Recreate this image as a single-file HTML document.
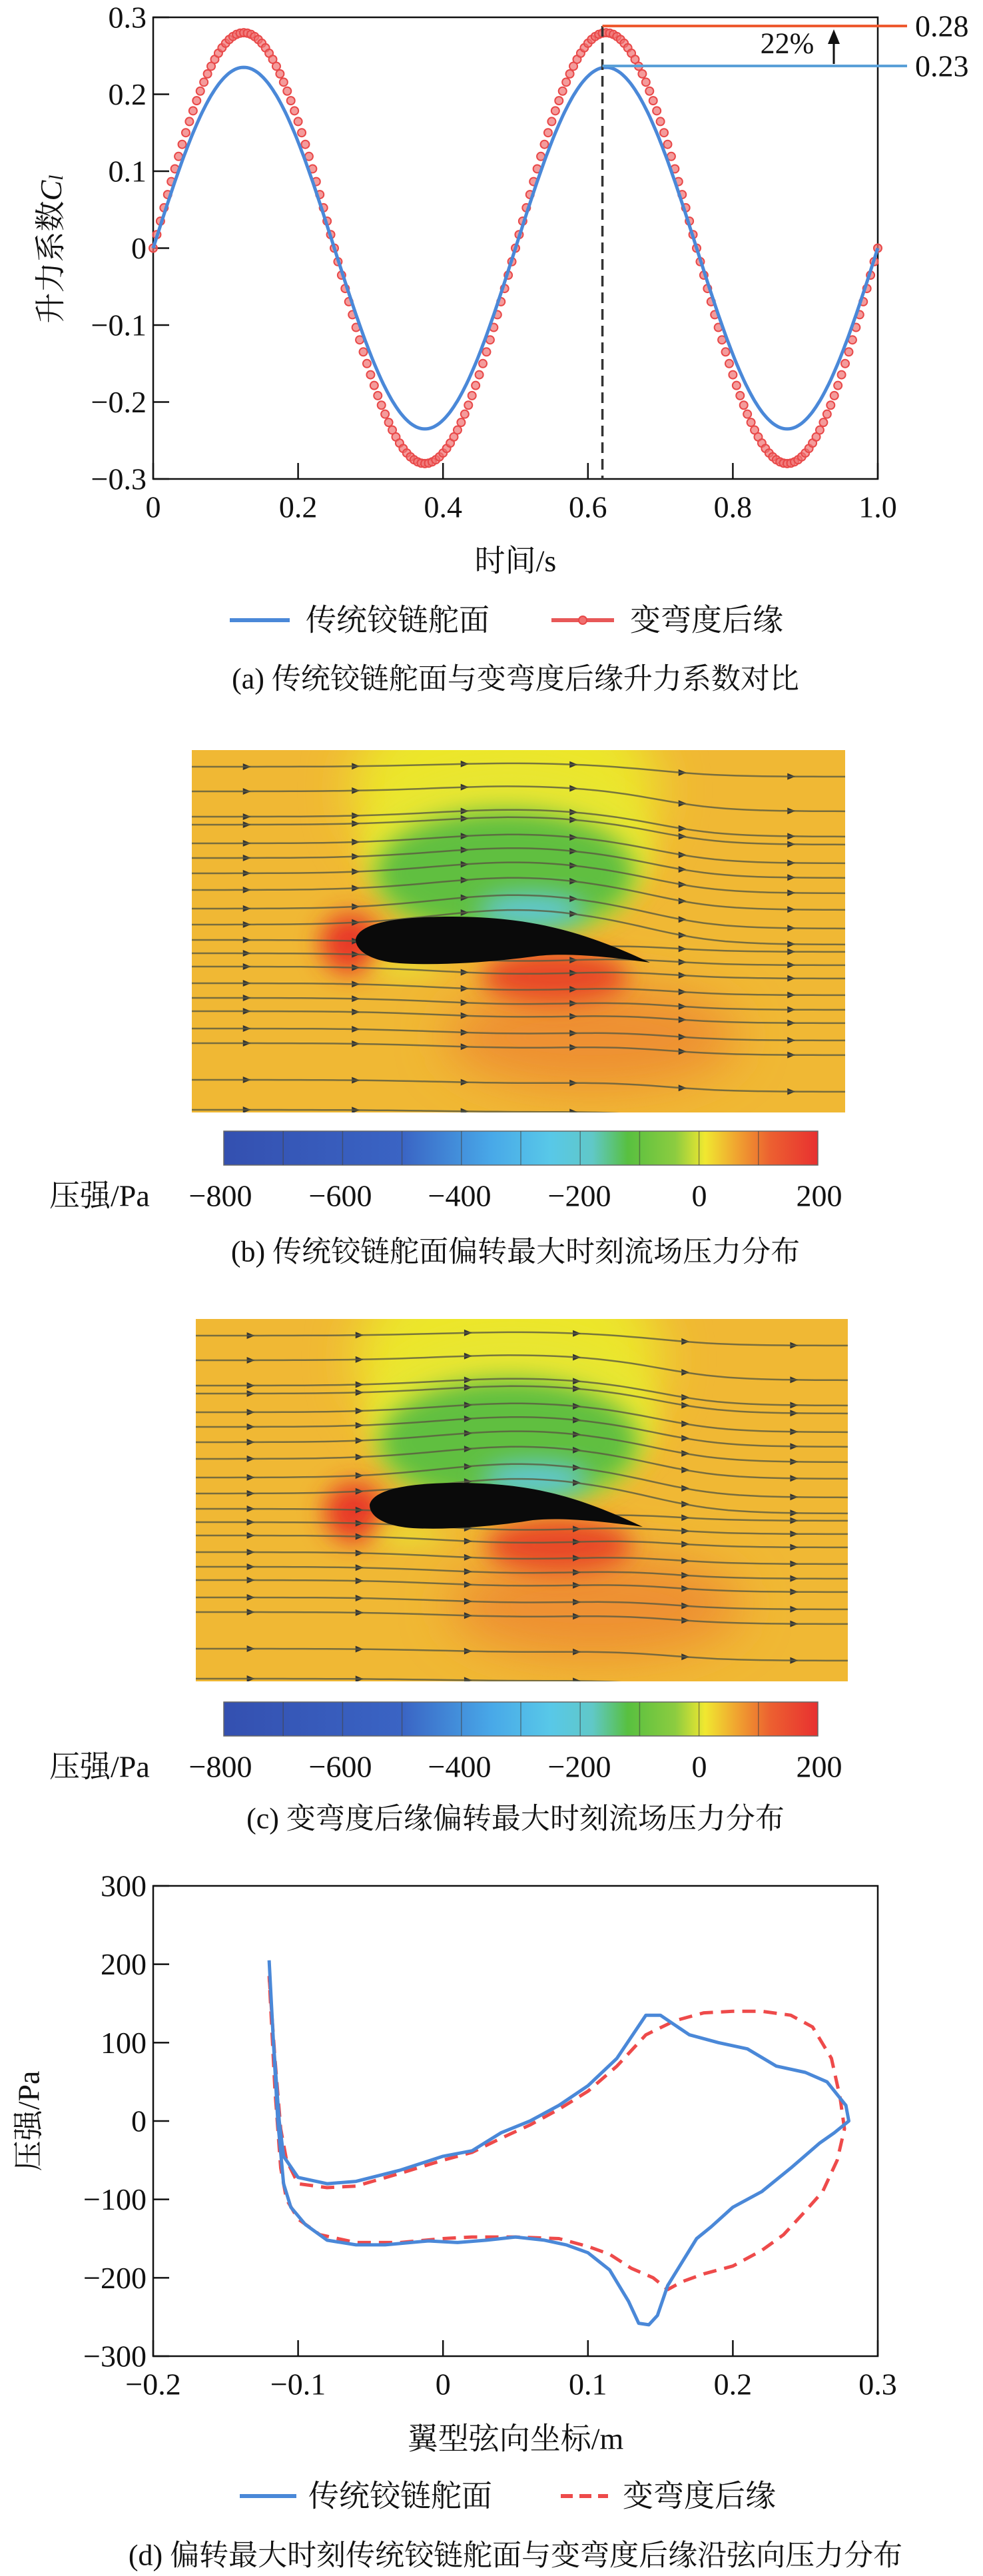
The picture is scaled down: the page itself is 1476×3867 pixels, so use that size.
<!DOCTYPE html>
<html><head><meta charset="utf-8">
<style>
html,body{margin:0;padding:0;background:#fff}
svg text{font-family:"Liberation Serif","Noto Serif CJK SC","Noto Sans CJK SC",serif;fill:#111}
</style></head>
<body>
<svg id="s" xmlns="http://www.w3.org/2000/svg" width="1476" height="3862" viewBox="0 0 1476 3862">
<defs>
<filter id="bl" x="-50%" y="-50%" width="200%" height="200%"><feGaussianBlur stdDeviation="35"/></filter>
<filter id="bl2" x="-50%" y="-50%" width="200%" height="200%"><feGaussianBlur stdDeviation="18"/></filter>
<linearGradient id="cb" x1="0" x2="1" y1="0" y2="0">
<stop offset="0" stop-color="#3450b0"/><stop offset="0.3" stop-color="#3a64c4"/>
<stop offset="0.45" stop-color="#48a8e8"/><stop offset="0.55" stop-color="#58c8e8"/>
<stop offset="0.62" stop-color="#60c8c8"/><stop offset="0.68" stop-color="#58c040"/>
<stop offset="0.76" stop-color="#8ccc40"/><stop offset="0.81" stop-color="#f0e830"/>
<stop offset="0.86" stop-color="#f0a830"/><stop offset="0.92" stop-color="#ec6030"/>
<stop offset="1" stop-color="#e83030"/>
</linearGradient>
<clipPath id="cpb"><rect x="288" y="1126" width="981" height="544"/></clipPath>
<clipPath id="cpc"><rect x="294" y="1980" width="979" height="544"/></clipPath>
</defs>
<g id="g"></g>
</svg>
<script>
var NS="http://www.w3.org/2000/svg",G=document.getElementById("g");
function el(t,a,p,txt){var e=document.createElementNS(NS,t);for(var k in a)e.setAttribute(k,a[k]);if(txt!==undefined)e.textContent=txt;(p||G).appendChild(e);return e;}
function T(x,y,s,a,fs,extra){var o={x:x,y:y,"font-size":fs||46,"text-anchor":a||"middle","dominant-baseline":"central"};for(var k in extra)o[k]=extra[k];return el("text",o,null,s);}
// ---------- Chart (a) ----------
var L=230,R=1318,TP=26,BT=719;
function ay(v){return 372.5-v*1155;}
function ax(t){return L+t*(R-L);}
el("rect",{x:L,y:TP,width:R-L,height:BT-TP,fill:"none",stroke:"#111","stroke-width":2.5});
[0.3,0.2,0.1,0,-0.1,-0.2,-0.3].forEach(function(v){var y=ay(v);el("line",{x1:L,x2:L+24,y1:y,y2:y,stroke:"#111","stroke-width":2.5});
 T(L-10,y,(v<0?"\u2212":"")+(v==0?"0":Math.abs(v).toFixed(1)),"end");});
[0,0.2,0.4,0.6,0.8,1.0].forEach(function(t){var x=ax(t);el("line",{x1:x,x2:x,y1:BT,y2:BT-24,stroke:"#111","stroke-width":2.5});
 T(x,761,t==0?"0":t.toFixed(1));});
T(774,842,"时间/s");
var tt=el("text",{x:0,y:0,"font-size":46,"text-anchor":"middle","dominant-baseline":"central",transform:"translate(76,374) rotate(-90)"},null,"升力系数");
var ts=el("tspan",{"font-style":"italic"},tt,"C");el("tspan",{"font-style":"italic","font-size":30,dy:8},tt,"l");
var d="";for(var i=0;i<=400;i++){var t=i/400;d+=(i?"L":"M")+ax(t).toFixed(1)+","+ay(0.235*Math.sin(2*Math.PI*t/0.5)).toFixed(1);}
for(var i=0;i<=200;i++){var t=i/200;var x=ax(t),y=ay(0.28*Math.sin(2*Math.PI*t/0.5));el("circle",{cx:x,cy:y,r:6,fill:"#f07070",stroke:"#e84848","stroke-width":2,"fill-opacity":0.7});}
el("path",{d:d,fill:"none",stroke:"#4a88d8","stroke-width":5});
var xd=ax(0.62);
el("line",{x1:xd,x2:xd,y1:39,y2:BT,stroke:"#333","stroke-width":3.5,"stroke-dasharray":"16,9"});
el("line",{x1:xd,x2:1362,y1:39,y2:39,stroke:"#ee5a30","stroke-width":4});
el("line",{x1:xd,x2:1362,y1:99,y2:99,stroke:"#5aa0d8","stroke-width":4});
T(1374,39,"0.28","start");T(1374,99,"0.23","start");
T(1182,65,"22%","middle",44);
el("line",{x1:1252,x2:1252,y1:96,y2:58,stroke:"#111","stroke-width":3});
el("path",{d:"M1252,44 L1243,66 L1261,66Z",fill:"#111"});
el("line",{x1:345,x2:435,y1:931,y2:931,stroke:"#4a88d8","stroke-width":6});
T(459,931,"传统铰链舵面","start");
el("line",{x1:828,x2:922,y1:931,y2:931,stroke:"#e85858","stroke-width":6});
el("circle",{cx:875,cy:931,r:6,fill:"#f07070",stroke:"#e84848","stroke-width":2});
T(946,931,"变弯度后缘","start");
T(774,1019,"(a) 传统铰链舵面与变弯度后缘升力系数对比","middle",44);
// ---------- flow panels ----------
function panel(ox,oy,w,h,cp,af,cbY){
 var g=el("g",{"clip-path":"url(#"+cp+")"});
 el("rect",{x:ox,y:oy,width:w,height:h,fill:"#f0b834"},g);
 el("ellipse",{cx:ox+600,cy:oy+430,rx:220,ry:80,fill:"#ee9030",filter:"url(#bl)"},g);
 el("ellipse",{cx:ox+470,cy:oy+60,rx:230,ry:170,fill:"#ece62a",filter:"url(#bl)"},g);
 el("ellipse",{cx:ox+475,cy:oy+150,rx:215,ry:130,fill:"#e8e630",filter:"url(#bl2)"},g);
 el("ellipse",{cx:ox+470,cy:oy+185,rx:195,ry:95,fill:"#60bf40",filter:"url(#bl2)"},g);
 el("ellipse",{cx:ox+510,cy:oy+240,rx:80,ry:25,fill:"#60c8d8",filter:"url(#bl2)"},g);
 el("ellipse",{cx:ox+238,cy:oy+290,rx:45,ry:45,fill:"#e83828",filter:"url(#bl2)"},g);
 el("ellipse",{cx:ox+545,cy:oy+340,rx:110,ry:40,fill:"#e84a28",filter:"url(#bl2)"},g);
 el("ellipse",{cx:ox+320,cy:oy+325,rx:55,ry:16,fill:"#e8e030",filter:"url(#bl2)"},g);
 var ys=[25,62,100,112,140,162,185,210,238,262,285,305,325,350,372,392,418,440,495,540];
 ys.forEach(function(y0,k){
  var pd="";var yc=oy+285;var dist=Math.abs(oy+y0-yc);var A=Math.max(0,40-dist*0.12);
  var up=(oy+y0<yc);
  for(var i=0;i<=60;i++){var x=ox+i*w/60;var u=(x-(ox+w*0.5))/(w*0.18);
   var bump=up? -A*0.6*Math.exp(-u*u) : A*0.3*Math.exp(-u*u);
   var down=(up?30:18)*(1/(1+Math.exp(-(x-(ox+w*0.72))/50)))*(dist<260?1:0.5);
   var y=oy+y0+bump+down;pd+=(i?"L":"M")+x.toFixed(1)+","+y.toFixed(1);
   if(i%10==5)el("path",{d:"M"+(x+7)+","+y+" l-12,-5 l0,10z",fill:"#333"},g);}
  el("path",{d:pd,fill:"none",stroke:"#5a5a40","stroke-width":2.5,"stroke-opacity":0.8},g);
 });
 el("path",{d:af,fill:"#0a0a0a"},g);
 el("rect",{x:336,y:cbY,width:892,height:51,fill:"url(#cb)",stroke:"#666","stroke-width":1.5});
 for(var i=1;i<10;i++){var x=336+i*89.2;el("line",{x1:x,x2:x,y1:cbY,y2:cbY+51,stroke:"#444","stroke-width":1.5,"stroke-opacity":0.6});}
 var ly=cbY+97;
 T(74,ly,"压强/Pa","start",46);
 [[-800,331],[-600,511],[-400,690],[-200,870],[0,1050],[200,1230]].forEach(function(p){T(p[1],ly,(p[0]<0?"\u2212":"")+Math.abs(p[0]),"middle",46);});
}
var afb="M534,1410 C540,1384 600,1376 680,1376 C780,1377 860,1390 976,1445 C900,1434 840,1430 800,1436 C740,1444 660,1450 600,1446 C558,1443 534,1428 534,1410Z";
panel(288,1126,981,544,"cpb",afb,1698);
T(774,1879,"(b) 传统铰链舵面偏转最大时刻流场压力分布","middle",44);
var afc="M555,2259 C561,2234 620,2226 690,2226 C790,2227 860,2242 965,2292 C890,2282 840,2278 800,2282 C750,2290 680,2297 620,2294 C578,2291 555,2277 555,2259Z";
panel(294,1980,979,544,"cpc",afc,2555);
T(774,2730,"(c) 变弯度后缘偏转最大时刻流场压力分布","middle",44);
// ---------- Chart (d) ----------
var DL=230,DR=1318,DT=2831,DB=3537;
function dx(x){return DL+(x+0.2)*(DR-DL)/0.5;}
function dy(v){return 3184-v*(DB-DT)/600;}
el("rect",{x:DL,y:DT,width:DR-DL,height:DB-DT,fill:"none",stroke:"#111","stroke-width":2.5});
[300,200,100,0,-100,-200,-300].forEach(function(v){var y=dy(v);el("line",{x1:DL,x2:DL+24,y1:y,y2:y,stroke:"#111","stroke-width":2.5});
 T(DL-10,y,(v<0?"\u2212":"")+Math.abs(v),"end");});
[-0.2,-0.1,0,0.1,0.2,0.3].forEach(function(v){var x=dx(v);el("line",{x1:x,x2:x,y1:DB,y2:DB-24,stroke:"#111","stroke-width":2.5});
 T(x,3579,(v<0?"\u2212":"")+(v==0?"0":Math.abs(v).toFixed(1)));});
T(774,3661,"翼型弦向坐标/m");
el("text",{x:0,y:0,"font-size":46,"text-anchor":"middle","dominant-baseline":"central",transform:"translate(43,3184) rotate(-90)"},null,"压强/Pa");
var blue=[[-0.12,205],[-0.117,100],[-0.113,0],[-0.11,-45],[-0.1,-72],[-0.08,-80],[-0.06,-77],[-0.03,-63],[0,-45],[0.02,-38],[0.04,-15],[0.06,0],[0.08,20],[0.1,45],[0.12,80],[0.14,135],[0.15,135],[0.17,110],[0.19,100],[0.21,92],[0.23,70],[0.25,62],[0.265,50],[0.278,20],[0.28,0],[0.27,-15],[0.26,-28],[0.24,-60],[0.22,-90],[0.2,-110],[0.185,-135],[0.175,-150],[0.165,-180],[0.155,-210],[0.148,-248],[0.142,-260],[0.135,-258],[0.128,-230],[0.115,-190],[0.1,-168],[0.085,-158],[0.07,-152],[0.05,-148],[0.03,-152],[0.01,-155],[-0.01,-153],[-0.04,-158],[-0.06,-158],[-0.08,-152],[-0.095,-132],[-0.105,-110],[-0.11,-80],[-0.114,0],[-0.117,100],[-0.12,205]];
var red=[[-0.12,185],[-0.116,80],[-0.112,-10],[-0.108,-50],[-0.1,-80],[-0.08,-85],[-0.06,-83],[-0.03,-67],[0,-50],[0.02,-40],[0.04,-22],[0.06,-5],[0.08,15],[0.1,38],[0.12,70],[0.14,110],[0.16,128],[0.18,138],[0.2,140],[0.22,140],[0.24,135],[0.255,120],[0.268,80],[0.274,30],[0.277,-10],[0.272,-50],[0.262,-90],[0.25,-115],[0.235,-145],[0.22,-165],[0.2,-185],[0.18,-195],[0.165,-205],[0.155,-215],[0.145,-200],[0.13,-188],[0.115,-170],[0.1,-160],[0.08,-150],[0.05,-148],[0.02,-148],[0,-150],[-0.03,-155],[-0.06,-155],[-0.085,-145],[-0.1,-125],[-0.108,-100],[-0.112,-60],[-0.116,40],[-0.12,185]];
function pp(a){return a.map(function(p,i){return (i?"L":"M")+dx(p[0]).toFixed(1)+","+dy(p[1]).toFixed(1);}).join("");}
el("path",{d:pp(red),fill:"none",stroke:"#ee4a4a","stroke-width":5,"stroke-dasharray":"20,12","stroke-linejoin":"round"});
el("path",{d:pp(blue),fill:"none",stroke:"#4a88d8","stroke-width":5,"stroke-linejoin":"round"});
el("line",{x1:360,x2:445,y1:3747,y2:3747,stroke:"#4a88d8","stroke-width":6});
T(463,3747,"传统铰链舵面","start");
el("line",{x1:842,x2:913,y1:3747,y2:3747,stroke:"#ee4a4a","stroke-width":6,"stroke-dasharray":"18,10"});
T(935,3747,"变弯度后缘","start");
T(774,3836,"(d) 偏转最大时刻传统铰链舵面与变弯度后缘沿弦向压力分布","middle",44);
</script>
</body></html>
